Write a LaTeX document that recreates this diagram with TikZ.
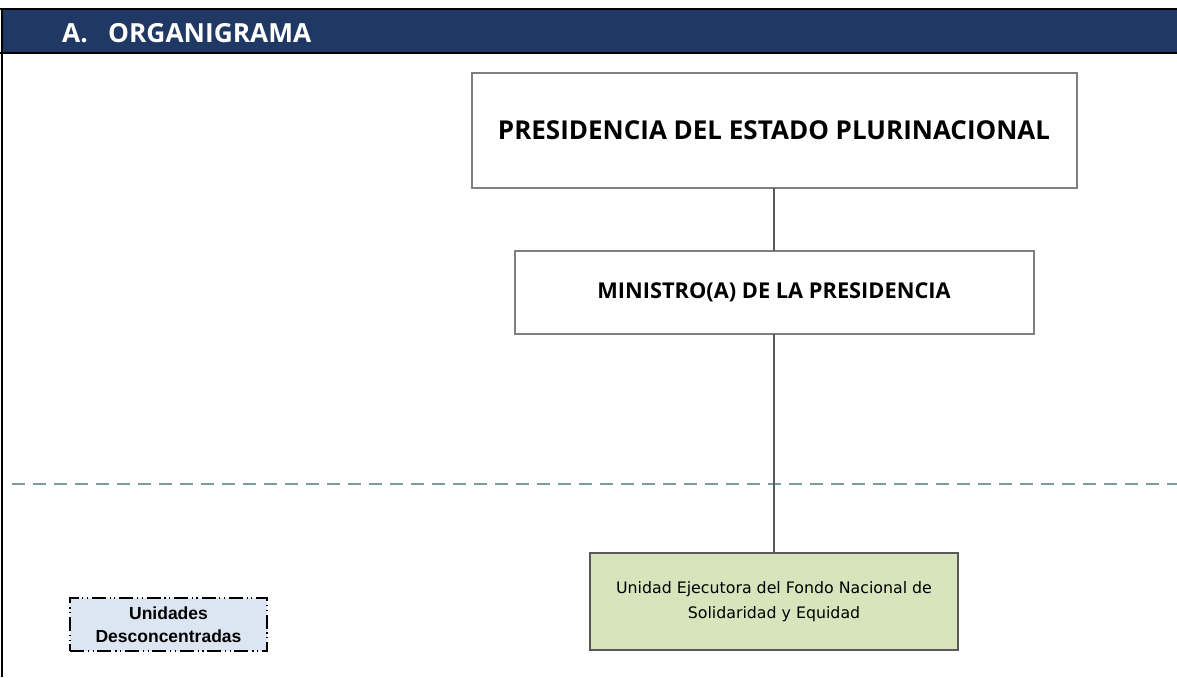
\documentclass[tikz,border=0pt]{standalone}
\usepackage{fontspec}
\setmainfont{Open Sans}
\newfontfamily\boxthree{DejaVu Sans}
\newfontfamily\legendfont{Liberation Sans}
\definecolor{navy}{HTML}{1F3864}
\definecolor{boxgray}{HTML}{7F7F7F}
\definecolor{linegray}{HTML}{595959}
\definecolor{olive}{HTML}{D8E4BC}
\definecolor{legblue}{HTML}{DCE6F2}
\definecolor{dashteal}{HTML}{7A9E9E}
\begin{document}
\begin{tikzpicture}[x=1pt,y=-1pt,
  orgbox/.style={draw=boxgray, line width=2pt, fill=white, inner sep=0pt, outer sep=0pt, align=center},
  link/.style={draw=linegray, line width=2pt},
  titletext/.style={text=white, font=\bfseries\fontsize{26.3}{30}\selectfont, inner sep=0pt, anchor=base west}]
\useasboundingbox (0,0) rectangle (1177,677);
\fill[white] (0,0) rectangle (1177,677);
% header
\fill[navy] (2,9) rectangle (1177,53);
\draw[black, line width=2.2pt] (0,9) -- (1177,9);
\draw[black, line width=2.2pt] (0,53) -- (1177,53);
\draw[black, line width=2.6pt] (2,8) -- (2,677);
\node[titletext] (ta) at (62,43) {A.};
\node[titletext] (tb) at (108,43) {ORGANIGRAMA};
% dashed separator
\coordinate (dl) at (12,484);
\coordinate (dr) at (1177,484);
\draw[dashteal, line width=1.3pt, dash pattern=on 13pt off 8pt] (dl) -- (dr);
% boxes
\node[orgbox, minimum width=605pt, minimum height=115pt, font=\bfseries\fontsize{26}{30}\selectfont] (pres) at (774,130.5) {PRESIDENCIA DEL ESTADO PLURINACIONAL};
\node[orgbox, minimum width=519pt, minimum height=83pt, font=\bfseries\fontsize{21.8}{26}\selectfont] (min) at (774,292.5) {MINISTRO(A) DE LA PRESIDENCIA};
\node[orgbox, draw=linegray, fill=olive, minimum width=368pt, minimum height=97pt, font=\boxthree\fontsize{15.8}{25}\selectfont] (uni) at (774,601.5) {Unidad Ejecutora del Fondo Nacional de\\Solidaridad y Equidad};
\draw[link] (pres.south) -- (min.north);
\draw[link] (min.south) -- (uni.north);
% legend
\node[draw=black, fill=legblue, line width=2pt, dash pattern=on 14pt off 4pt on 1.2pt off 3.5pt on 1.2pt off 3.5pt, minimum width=197pt, minimum height=53pt, inner sep=0pt, align=center, font=\legendfont\bfseries\fontsize{17.5}{23}\selectfont] (leg) at (168.5,624.5) {Unidades\\Desconcentradas};
\end{tikzpicture}
\end{document}
